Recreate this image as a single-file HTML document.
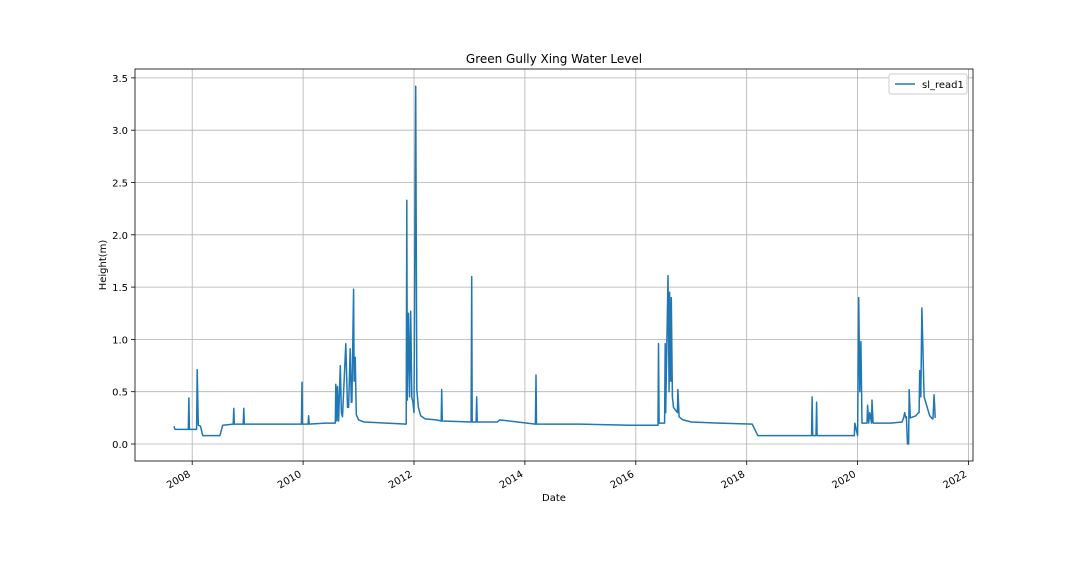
<!DOCTYPE html>
<html><head><meta charset="utf-8"><style>
body{margin:0;background:#fff;}
svg{display:block;font-family:"DejaVu Sans","Liberation Sans",sans-serif;}
</style></head><body>
<svg id="chart" width="1080" height="576" xmlns="http://www.w3.org/2000/svg">
<rect width="1080" height="576" fill="#fff"/>
<text x="554" y="63" font-size="12" text-anchor="middle">Green Gully Xing Water Level</text>
<text x="554" y="501" font-size="10" text-anchor="middle">Date</text>
<text transform="translate(106,265) rotate(-90)" font-size="10" text-anchor="middle">Height(m)</text>
<g id="grid"></g>
<g id="series"></g>
<g id="axes"></g>
<g>
<rect x="889" y="74" width="78" height="20" fill="#fff" stroke="#ccc" rx="2"/>
<line x1="895" y1="84" x2="915" y2="84" stroke="#1f77b4" stroke-width="1.5"/>
<text x="922" y="88" font-size="10">sl_read1</text>
</g>
</svg>
<script>
const xTicks=[2008,2010,2012,2014,2016,2018,2020,2022];
const yTicks=[0,0.5,1,1.5,2,2.5,3,3.5];
const dates=[2007.67,2007.69,2007.93,2007.94,2007.95,2008.08,2008.09,2008.11,2008.15,2008.19,2008.5,2008.55,2008.74,2008.75,2008.76,2008.92,2008.93,2008.94,2009.5,2009.97,2009.98,2009.99,2010.09,2010.1,2010.11,2010.4,2010.58,2010.59,2010.61,2010.62,2010.64,2010.67,2010.69,2010.71,2010.77,2010.8,2010.82,2010.85,2010.87,2010.88,2010.91,2010.92,2010.94,2010.96,2011.0,2011.1,2011.5,2011.86,2011.87,2011.88,2011.9,2011.92,2011.94,2011.96,2011.98,2012.0,2012.03,2012.05,2012.08,2012.12,2012.2,2012.4,2012.49,2012.5,2012.51,2013.03,2013.04,2013.05,2013.12,2013.13,2013.14,2013.5,2013.55,2014.19,2014.2,2014.21,2015.0,2015.9,2016.4,2016.41,2016.42,2016.52,2016.53,2016.54,2016.58,2016.6,2016.61,2016.63,2016.64,2016.66,2016.68,2016.75,2016.76,2016.78,2016.85,2017.0,2017.5,2018.1,2018.2,2019.17,2019.18,2019.19,2019.25,2019.26,2019.27,2019.94,2019.95,2020.0,2020.02,2020.04,2020.06,2020.08,2020.17,2020.18,2020.2,2020.22,2020.25,2020.26,2020.28,2020.6,2020.8,2020.83,2020.85,2020.87,2020.88,2020.9,2020.92,2020.93,2020.95,2021.05,2021.1,2021.11,2021.12,2021.14,2021.16,2021.2,2021.3,2021.35,2021.36,2021.38,2021.4];
const values=[0.17,0.14,0.14,0.44,0.14,0.14,0.71,0.18,0.17,0.08,0.08,0.18,0.19,0.34,0.19,0.19,0.34,0.19,0.19,0.19,0.59,0.19,0.19,0.27,0.19,0.2,0.2,0.57,0.22,0.55,0.22,0.75,0.3,0.26,0.96,0.35,0.35,0.91,0.4,0.4,1.48,0.6,0.83,0.28,0.23,0.21,0.2,0.19,2.33,0.42,1.25,0.45,1.27,0.45,0.4,0.3,3.42,0.52,0.35,0.27,0.24,0.23,0.22,0.52,0.22,0.21,1.6,0.21,0.21,0.45,0.21,0.21,0.23,0.19,0.66,0.19,0.19,0.18,0.18,0.96,0.2,0.2,0.96,0.3,1.61,0.5,1.45,0.6,1.4,0.45,0.35,0.3,0.52,0.26,0.23,0.21,0.2,0.19,0.08,0.08,0.45,0.08,0.08,0.4,0.08,0.08,0.2,0.08,1.4,0.5,0.98,0.2,0.2,0.37,0.2,0.3,0.2,0.42,0.2,0.2,0.21,0.25,0.3,0.25,0.26,0.0,0.0,0.52,0.25,0.27,0.3,0.3,0.7,0.45,1.3,0.45,0.27,0.24,0.24,0.47,0.25,0.27];
const L=135,R=973,T=69,B=461;
function xs(y){return 414+(y-2012)*55.45;}
function ys(v){return 444-v*104.6;}
const NS="http://www.w3.org/2000/svg";
const grid=document.getElementById('grid'),axes=document.getElementById('axes'),ser=document.getElementById('series');
function mk(tag,attrs,parent){const e=document.createElementNS(NS,tag);for(const k in attrs)e.setAttribute(k,attrs[k]);parent.appendChild(e);return e;}
xTicks.forEach(t=>{const x=xs(t);
 const g=mk('line',{x1:x,x2:x,y1:T,y2:B,stroke:'#b0b0b0','stroke-width':0.8},grid);
 
 
 const tk=mk('line',{x1:x,x2:x,y1:B,y2:B+4,stroke:'#000','stroke-width':0.8},axes);
 
 
 const tx=mk('text',{transform:`translate(${x-1},${B+15}) rotate(-30)`,'font-size':10,'text-anchor':'end'},axes);
 tx.textContent=t;
 
 
});
yTicks.forEach(t=>{const y=ys(t);
 const g=mk('line',{x1:L,x2:R,y1:y,y2:y,stroke:'#b0b0b0','stroke-width':0.8},grid);
 
 
 const tk=mk('line',{x1:L-4,x2:L,y1:y,y2:y,stroke:'#000','stroke-width':0.8},axes);
 
 
 const tx=mk('text',{x:L-7,y:y+4,'font-size':10,'text-anchor':'end'},axes);
 tx.textContent=t.toFixed(1);
 
 
});
const fr=mk('rect',{x:L,y:T,width:R-L,height:B-T,fill:'none',stroke:'#000','stroke-width':0.8},axes);


const pts=dates.map((d,i)=>xs(d).toFixed(1)+','+ys(values[i]).toFixed(1)).join(' ');
const pl=mk('polyline',{points:pts,fill:'none',stroke:'#1f77b4','stroke-width':1.5,'stroke-linejoin':'round'},ser);


</script>
</body></html>
